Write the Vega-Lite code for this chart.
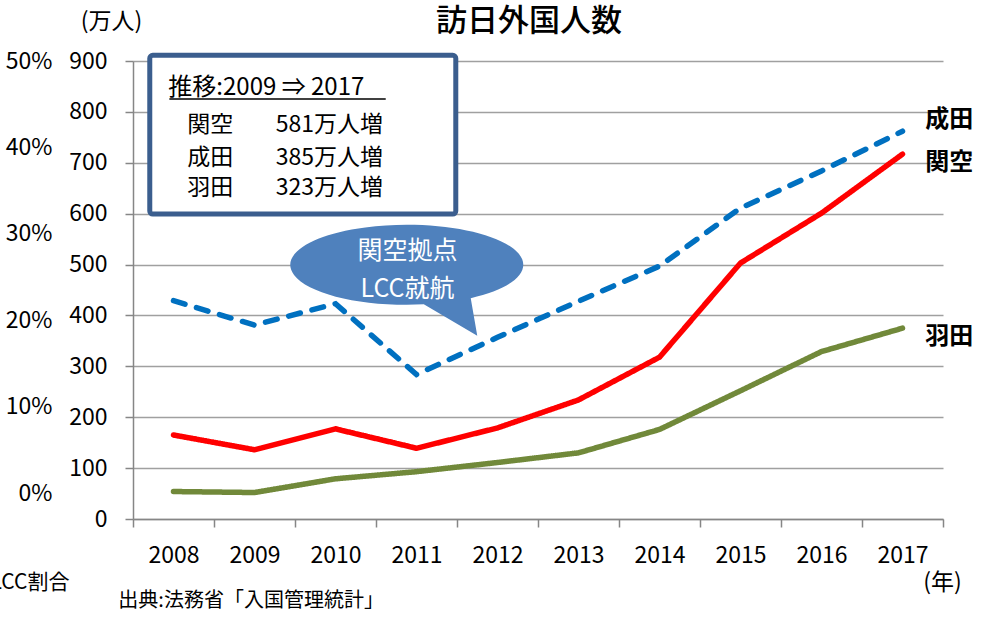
{
  "$schema": "https://vega.github.io/schema/vega-lite/v6.json",
  "width": 810,
  "height": 458,
  "autosize": "none",
  "padding": {"left": 133, "top": 61, "right": 47, "bottom": 101},
  "background": "white",
  "config": {
    "font": "Noto Sans CJK JP",
    "view": {"stroke": null},
    "axis": {"labelFont": "Noto Sans CJK JP", "titleFont": "Noto Sans CJK JP", "labelColor": "#000000", "titleColor": "#000000"}
  },
  "title": {
    "text": "訪日外国人数",
    "fontSize": 31,
    "fontWeight": 500,
    "color": "#000000",
    "anchor": "middle",
    "frame": "group",
    "dx": -9,
    "offset": -28
  },
  "layer": [
    {
      "encoding": {
        "x": {
          "field": "year",
          "type": "quantitative",
          "scale": {"domain": [2007.5, 2017.5], "nice": false, "zero": false},
          "axis": {
            "values": [2007.5, 2008.5, 2009.5, 2010.5, 2011.5, 2012.5, 2013.5, 2014.5, 2015.5, 2016.5, 2017.5],
            "labelExpr": "datum.value > 2017 ? '' : '' + (datum.value + 0.5)",
            "labelOffset": 40.5,
            "labelFontSize": 23,
            "labelBaseline": "middle",
            "labelPadding": 28,
            "labelFlush": false,
            "labelOverlap": false,
            "grid": false,
            "tickSize": 8,
            "tickColor": "#868686",
            "tickWidth": 1.5,
            "domainColor": "#868686",
            "domainWidth": 1.5,
            "title": "(年)",
            "titleFontSize": 23,
            "titleFontWeight": "normal",
            "titleX": 809,
            "titleY": 63,
            "titleAlign": "center",
            "titleBaseline": "middle",
            "titleAngle": 0
          }
        },
        "y": {
          "field": "value",
          "type": "quantitative",
          "scale": {"domain": [0, 900], "nice": false, "zero": false},
          "axis": {
            "values": [0, 100, 200, 300, 400, 500, 600, 700, 800, 900],
            "labelFontSize": 23,
            "labelPadding": 18,
            "tickSize": 8,
            "tickColor": "#868686",
            "tickWidth": 1.5,
            "domainColor": "#868686",
            "domainWidth": 1.5,
            "grid": true,
            "gridColor": "#a0a0a0",
            "gridWidth": 1.5,
            "title": "(万人)",
            "titleFontSize": 23,
            "titleFontWeight": "normal",
            "titleAngle": 0,
            "titleX": -22,
            "titleY": -40,
            "titleAlign": "center",
            "titleBaseline": "middle"
          }
        }
      },
      "layer": [
        {
          "data": {"values": [
            {"airport": "成田", "year": 2008, "value": 429},
            {"airport": "成田", "year": 2009, "value": 381},
            {"airport": "成田", "year": 2010, "value": 423},
            {"airport": "成田", "year": 2011, "value": 284},
            {"airport": "成田", "year": 2012, "value": 357},
            {"airport": "成田", "year": 2013, "value": 428},
            {"airport": "成田", "year": 2014, "value": 497},
            {"airport": "成田", "year": 2015, "value": 611},
            {"airport": "成田", "year": 2016, "value": 684},
            {"airport": "成田", "year": 2017, "value": 762},
            {"airport": "関空", "year": 2008, "value": 165},
            {"airport": "関空", "year": 2009, "value": 136},
            {"airport": "関空", "year": 2010, "value": 177},
            {"airport": "関空", "year": 2011, "value": 139},
            {"airport": "関空", "year": 2012, "value": 179},
            {"airport": "関空", "year": 2013, "value": 234},
            {"airport": "関空", "year": 2014, "value": 318},
            {"airport": "関空", "year": 2015, "value": 503},
            {"airport": "関空", "year": 2016, "value": 601},
            {"airport": "関空", "year": 2017, "value": 717},
            {"airport": "羽田", "year": 2008, "value": 54},
            {"airport": "羽田", "year": 2009, "value": 52},
            {"airport": "羽田", "year": 2010, "value": 79},
            {"airport": "羽田", "year": 2011, "value": 93},
            {"airport": "羽田", "year": 2012, "value": 111},
            {"airport": "羽田", "year": 2013, "value": 130},
            {"airport": "羽田", "year": 2014, "value": 176},
            {"airport": "羽田", "year": 2015, "value": 252},
            {"airport": "羽田", "year": 2016, "value": 329},
            {"airport": "羽田", "year": 2017, "value": 375}
          ]},
          "mark": {"type": "line", "strokeWidth": 5.5, "strokeCap": "round"},
          "encoding": {
            "color": {"field": "airport", "type": "nominal", "scale": {"domain": ["成田", "関空", "羽田"], "range": ["#0070c0", "#ff0000", "#71893a"]}, "legend": null},
            "strokeDash": {"field": "airport", "type": "nominal", "scale": {"domain": ["成田", "関空", "羽田"], "range": [[12, 12], [1, 0], [1, 0]]}, "legend": null},
            "order": {"field": "year", "type": "quantitative"}
          }
        },
        {
          "data": {"values": [
            {"year": 2017.281, "value": 785, "label": "成田"},
            {"year": 2017.281, "value": 698.6, "label": "関空"},
            {"year": 2017.281, "value": 358.6, "label": "羽田"}
          ]},
          "mark": {"type": "text", "align": "left", "baseline": "middle", "fontSize": 24, "fontWeight": "bold", "color": "#000000"},
          "encoding": {"text": {"field": "label"}}
        },
        {
          "data": {"values": [{"year": 2007.707, "year2": 2011.485, "value": 911.2, "value2": 599.3}]},
          "mark": {"type": "rect", "fill": "#ffffff", "stroke": "#3b5e8e", "strokeWidth": 5, "cornerRadius": 3},
          "encoding": {"x2": {"field": "year2"}, "y2": {"field": "value2"}}
        },
        {
          "data": {"values": [
            {"year": 2007.936, "value": 846.4, "label": "推移:2009 ⇒ 2017"}
          ]},
          "mark": {"type": "text", "align": "left", "baseline": "middle", "fontSize": 24, "color": "#000000"},
          "encoding": {"text": {"field": "label"}}
        },
        {
          "data": {"values": [
            {"year": 2008.17, "value": 775.0, "label": "関空"},
            {"year": 2008.17, "value": 709.4, "label": "成田"},
            {"year": 2008.17, "value": 650.5, "label": "羽田"},
            {"year": 2009.263, "value": 775.0, "label": "581万人増"},
            {"year": 2009.263, "value": 709.4, "label": "385万人増"},
            {"year": 2009.263, "value": 650.5, "label": "323万人増"}
          ]},
          "mark": {"type": "text", "align": "left", "baseline": "middle", "fontSize": 23, "color": "#000000"},
          "encoding": {"text": {"field": "label"}}
        },
        {
          "data": {"values": [{"year": 2007.949, "year2": 2010.62, "value": 825.4}]},
          "mark": {"type": "rule", "color": "#000000", "strokeWidth": 1.5},
          "encoding": {"x2": {"field": "year2"}}
        },
        {
          "data": {"values": [{"year": 2010.88, "value": 499.5}]},
          "mark": {"type": "point", "filled": true, "fill": "#4f81bd", "opacity": 1, "strokeWidth": 0, "size": 54289, "shape": "M0.146,0.3396 A1,0.3433 0 1 1 0.549,0.2869 L0.605,0.609 Z"},
          "encoding": {}
        },
        {
          "data": {"values": [
            {"year": 2010.89, "value": 527.4, "label": "関空拠点"},
            {"year": 2010.89, "value": 451.8, "label": "LCC就航"}
          ]},
          "mark": {"type": "text", "align": "center", "baseline": "middle", "fontSize": 25, "color": "#ffffff"},
          "encoding": {"text": {"field": "label"}}
        },
        {
          "data": {"values": [{"year": 2007.319, "value": -161.8, "label": "出典:法務省「入国管理統計」"}]},
          "mark": {"type": "text", "align": "left", "baseline": "middle", "fontSize": 20, "color": "#000000"},
          "encoding": {"text": {"field": "label"}}
        }
      ]
    },
    {
      "data": {"values": [{"pct": 0}]},
      "mark": {"type": "rule", "strokeOpacity": 0},
      "encoding": {
        "y": {
          "field": "pct",
          "type": "quantitative",
          "scale": {"domain": [-3.0, 50], "nice": false, "zero": false},
          "axis": {
            "orient": "left",
            "values": [0, 10, 20, 30, 40, 50],
            "labelExpr": "datum.value + '%'",
            "labelFontSize": 23,
            "labelPadding": 81,
            "ticks": false,
            "domain": false,
            "grid": false,
            "title": "LCC割合",
            "titleFontSize": 21,
            "titleFontWeight": "normal",
            "titleAngle": 0,
            "titleX": -64,
            "titleY": 521,
            "titleAlign": "right",
            "titleBaseline": "middle"
          }
        }
      }
    }
  ],
  "resolve": {"scale": {"y": "independent"}}
}
